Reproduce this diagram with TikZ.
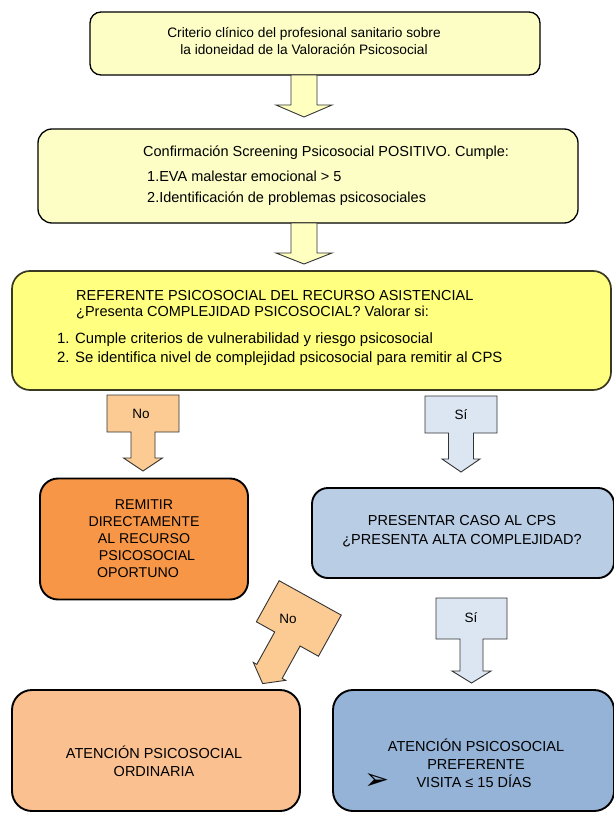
\documentclass[tikz,border=0pt]{standalone}
\usepackage{fontspec}
\setmainfont{Liberation Sans}
\newfontfamily\dingfont{DejaVu Sans}
\definecolor{yLight}{HTML}{FDFDC6}
\definecolor{yArrow}{HTML}{FFFFC0}
\definecolor{yBright}{HTML}{FFFF80}
\definecolor{oDark}{HTML}{F79646}
\definecolor{oLight}{HTML}{FAC090}
\definecolor{oArrow}{HTML}{FBCB93}
\definecolor{bLight}{HTML}{B9CDE5}
\definecolor{bMid}{HTML}{95B3D7}
\definecolor{bArrow}{HTML}{DCE6F2}
\definecolor{olivedark}{HTML}{3A3A22}
\newcommand\LblArrow[7]{%
  \path[#7] (-#1/2,0) -- (#1/2,0) -- (#1/2,#2) -- (#3/2,#2) -- (#3/2,#2+#5) -- (#4/2,#2+#5)
    -- (0,#2+#5+#6) -- (-#4/2,#2+#5) -- (-#3/2,#2+#5) -- (-#3/2,#2) -- (-#1/2,#2) -- cycle;}
\newcommand\PlainArrow[5]{%
  \path[#5] (-#1/2,0) -- (#1/2,0) -- (#1/2,#3) -- (#2/2,#3) -- (0,#3+#4) -- (-#2/2,#3)
    -- (-#1/2,#3) -- cycle;}
\begin{document}
\begin{tikzpicture}[x=1pt,y=-1pt,
  box/.style={draw=black, line width=1.9pt, rounded corners=16pt, inner sep=0pt},
  txt/.style={inner sep=0pt, font=\fontsize{14.5}{18}\selectfont},
  arr/.style={draw=black!80, line width=0.9pt, line join=miter},
  lbl/.style={inner sep=0pt, font=\fontsize{13.5}{16}\selectfont}]
\useasboundingbox (0,0) rectangle (613,813);
\fill[white] (0,0) rectangle (613,813);

% boxes
\node[box, fill=yLight, line width=1.3pt, rounded corners=11pt, minimum width=450pt, minimum height=63pt] (b1) at (315,43.5) {};
\node[box, fill=yLight, line width=1.3pt, rounded corners=14pt, minimum width=540pt, minimum height=94pt] (b2) at (308,176) {};
\node[box, fill=yBright, draw=olivedark, line width=1.7pt, rounded corners=18pt, minimum width=599pt, minimum height=119pt] (b3) at (311.5,330.5) {};
\node[box, fill=oDark, rounded corners=18pt, minimum width=208pt, minimum height=121pt] (b4) at (144,539) {};
\node[box, fill=bLight, rounded corners=16pt, minimum width=302pt, minimum height=90pt] (b5) at (463,533) {};
\node[box, fill=oLight, rounded corners=20pt, minimum width=288pt, minimum height=121pt] (b6) at (156,750.5) {};
\node[box, fill=bMid, rounded corners=20pt, minimum width=281pt, minimum height=121pt] (b7) at (473.5,750.5) {};

% texts
\node[txt, align=center, font=\fontsize{13.7}{17}\selectfont] (t1) at (304,41.5)
  {Criterio clínico del profesional sanitario sobre\\la idoneidad de la Valoración Psicosocial};
\node[txt, anchor=base west] (t2a) at (143,157) {Confirmación Screening Psicosocial POSITIVO. Cumple:};
\node[txt, anchor=base west] (t2b) at (147,182) {1.EVA malestar emocional > 5};
\node[txt, anchor=base west] (t2c) at (147,202) {2.Identificación de problemas psicosociales};
\node[txt, anchor=base west] (t3a) at (76,300) {REFERENTE PSICOSOCIAL DEL RECURSO ASISTENCIAL};
\node[txt, anchor=base west] (t3b) at (76,316) {¿Presenta COMPLEJIDAD PSICOSOCIAL? Valorar si:};
\node[txt, anchor=base west, font=\fontsize{14.9}{18}\selectfont] (t3c) at (57,343) {1. Cumple criterios de vulnerabilidad y riesgo psicosocial};
\node[txt, anchor=base west, font=\fontsize{14.9}{18}\selectfont] (t3d) at (57,362) {2. Se identifica nivel de complejidad psicosocial para remitir al CPS};
\node[txt, align=center, font=\fontsize{14.2}{17}\selectfont] (t4) at (144,539)
  {REMITIR\\DIRECTAMENTE\\AL RECURSO\\\hspace*{6pt}PSICOSOCIAL\\OPORTUNO\hspace*{12pt}};
\node[txt, align=center, font=\fontsize{14.5}{19}\selectfont] (t5) at (462,531.5)
  {PRESENTAR CASO AL CPS\\¿PRESENTA ALTA COMPLEJIDAD?};
\node[txt, align=center] (t6) at (154,761.5) {ATENCIÓN PSICOSOCIAL\\ORDINARIA};
\node[txt, align=center] (t7) at (476,763) {ATENCIÓN PSICOSOCIAL\\PREFERENTE\\\hspace*{-4pt}VISITA ≤ 15 DÍAS};
\node[inner sep=0pt, font=\dingfont\fontsize{30}{30}\selectfont] (t7m) at (377,781) {➢};

% plain arrows
\coordinate (a1) at (304,75);
\coordinate (a2) at (304,223);
\begin{scope}[shift={(a1)}] \PlainArrow{26}{56}{30}{12}{arr, fill=yArrow} \end{scope}
\begin{scope}[shift={(a2)}] \PlainArrow{26}{56}{30}{11}{arr, fill=yArrow} \end{scope}

% labelled arrows
\coordinate (n1) at (143,395);
\coordinate (s1) at (461,396);
\coordinate (s2) at (471.5,598);
\coordinate (n2) at (310.2,597.9);
\begin{scope}[shift={(n1)}] \LblArrow{72}{37}{24}{39}{26}{13}{arr, fill=oArrow} \end{scope}
\begin{scope}[shift={(s1)}] \LblArrow{72}{37}{25}{38}{26}{13}{arr, fill=bArrow} \end{scope}
\begin{scope}[shift={(s2)}] \LblArrow{71}{41}{23}{39}{32}{12}{arr, fill=bArrow} \end{scope}
\begin{scope}[shift={(n2)}, rotate=-29] \LblArrow{71}{47}{29}{37}{37}{14}{arr, fill=oArrow} \end{scope}
\node[lbl] (ln1) at (141,414) {No};
\node[lbl] (ls1) at (461,415) {Sí};
\node[lbl] (ls2) at (471,618) {Sí};
\node[lbl] (ln2) at (288,619) {No};
\end{tikzpicture}
\end{document}
